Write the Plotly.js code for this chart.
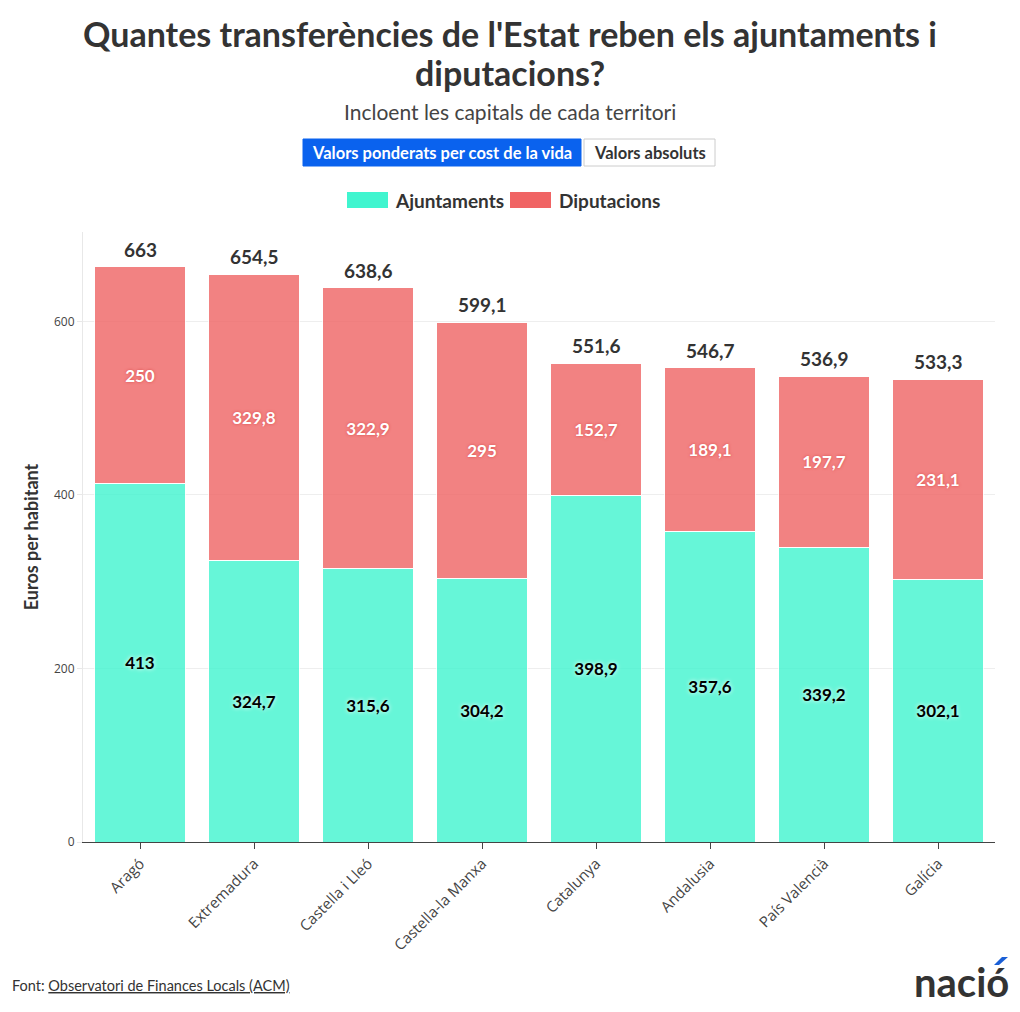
<!DOCTYPE html>
<html>
<head>
<meta charset="utf-8">
<script src="https://cdn.plot.ly/plotly-3.0.1.min.js"></script>
<style>html,body{margin:0;padding:0;background:#fff;}#chart{width:1020px;height:1012px;}</style>
</head>
<body>
<div id="chart"></div>
<script>
const categories = ["Aragó","Extremadura","Castella i Lleó","Castella-la Manxa","Catalunya","Andalusia","País Valencià","Galícia"];
const ajuntaments = [413, 324.7, 315.6, 304.2, 398.9, 357.6, 339.2, 302.1];
const diputacions = [250, 329.8, 322.9, 295, 152.7, 189.1, 197.7, 231.1];
const totals = [663, 654.5, 638.6, 599.1, 551.6, 546.7, 536.9, 533.3];
const seriesNames = ["Ajuntaments","Diputacions"];
const buttonLabels = ["Valors ponderats per cost de la vida","Valors absoluts"];
const titleLines = ["Quantes transferències de l'Estat reben els ajuntaments i","diputacions?"];

const fmt = v => String(v).replace('.', ',');
const TXT = "Lato, 'Noto Sans', sans-serif";
const TICK = "'Open Sans', sans-serif";

const traces = [
  {
    type:'bar', name:seriesNames[0], x:categories, y:ajuntaments,
    text: ajuntaments.map(fmt), textposition:'inside', insidetextanchor:'middle',
    textfont:{family:TXT, size:17, color:'#000', weight:700, shadow:'0px 0px 4px #ffffff'},
    marker:{color:'#40f5cf', opacity:0.8, line:{color:'#ffffff', width:1}},
    hoverinfo:'x+y', showlegend:false
  },
  {
    type:'bar', name:seriesNames[1], x:categories, y:diputacions,
    text: diputacions.map(fmt), textposition:'inside', insidetextanchor:'middle',
    textfont:{family:TXT, size:17, color:'#fff', weight:700, shadow:'0px 0px 3px #d94a4a'},
    marker:{color:'#f06464', opacity:0.8, line:{color:'#ffffff', width:1}},
    hoverinfo:'x+y', showlegend:false
  }
];

const L=83, R=995, T=232, B=842;
const px = x => (x - L)/(R - L);
const py = y => (B - y)/(B - T);

const shapes = [
  {type:'rect', xref:'paper', yref:'paper', x0:px(303), x1:px(581), y0:py(166), y1:py(139), fillcolor:'#0a62ee', line:{color:'#0a62ee', width:1}, layer:'above'},
  {type:'rect', xref:'paper', yref:'paper', x0:px(584), x1:px(715), y0:py(166), y1:py(139), fillcolor:'#ffffff', line:{color:'#cccccc', width:1}, layer:'above'},
  {type:'rect', xref:'paper', yref:'paper', x0:px(347), x1:px(388), y0:py(208), y1:py(192), fillcolor:'#40f5cf', line:{width:0}, layer:'above'},
  {type:'rect', xref:'paper', yref:'paper', x0:px(510), x1:px(551), y0:py(208), y1:py(192), fillcolor:'#f06464', line:{width:0}, layer:'above'},
  {type:'path', xref:'paper', yref:'paper', layer:'above', fillcolor:'#1a5fd6', line:{width:0},
   path:`M ${px(994)} ${py(965)} L ${px(999)} ${py(965)} L ${px(1008)} ${py(957)} L ${px(1002)} ${py(957)} Z`}
];

const ann = (x, y, text, font, xanchor) => ({xref:'paper', yref:'paper', x:px(x), y:py(y), xanchor:xanchor||'center', yanchor:'middle', text, showarrow:false, font});

const annotations = [
  ann(510, 33, '<b>'+titleLines[0]+'</b>', {family:TXT, size:34, color:'#333'}),
  ann(510, 73, '<b>'+titleLines[1]+'</b>', {family:TXT, size:34, color:'#333'}),
  ann(510, 111, 'Incloent les capitals de cada territori', {family:TXT, size:21, color:'#444'}),
  ann(442, 153, '<b>'+buttonLabels[0]+'</b>', {family:TXT, size:16.5, color:'#fff'}),
  ann(649.5, 153, '<b>'+buttonLabels[1]+'</b>', {family:TXT, size:16.5, color:'#333'}),
  ann(393, 200, '<b>'+seriesNames[0]+'</b>', {family:TXT, size:19, color:'#333'}, 'left'),
  ann(557, 200, '<b>'+seriesNames[1]+'</b>', {family:TXT, size:19, color:'#333'}, 'left'),
  ann(10, 985, 'Font: <span style="text-decoration:underline">Observatori de Finances Locals (ACM)</span>', {family:TXT, size:14.5, color:'#333'}, 'left'),
  ann(1011, 982, '<b>nació</b>', {family:TXT, size:40, color:'#333', weight:900}, 'right')
];

// totals above each stacked bar
categories.forEach((c, i) => {
  annotations.push({xref:'x', yref:'y', x:c, y:totals[i], yanchor:'bottom', yshift:4, text:'<b>'+fmt(totals[i])+'</b>', showarrow:false, font:{family:TXT, size:19, color:'#333'}});
});

const layout = {
  width:1020, height:1012,
  margin:{l:L, r:1020-R, t:T, b:1012-B, pad:0},
  paper_bgcolor:'#fff', plot_bgcolor:'#fff',
  barmode:'stack', bargap:0.2,
  separators:', ',
  xaxis:{type:'category', tickangle:-45, tickfont:{family:TICK, size:15, color:'#444'}, showline:true, linecolor:'#444', linewidth:1, ticks:'outside', ticklen:6, tickcolor:'#444', showgrid:false, automargin:false},
  yaxis:{range:[0,703], tickvals:[0,200,400,600], tickfont:{family:TICK, size:12, color:'#444'}, gridcolor:'#eeeeee', zeroline:false, showline:true, linecolor:'#e8e8e8', ticks:'outside', ticklen:5, tickcolor:'#e8e8e8', automargin:false,
    title:{text:'<b>Euros per habitant</b>', font:{family:TXT, size:18, color:'#333'}, standoff:10}},
  shapes:shapes, annotations:annotations,
  showlegend:false,
  font:{family:TXT, color:'#333'}
};

Plotly.newPlot('chart', traces, layout, {displayModeBar:false, responsive:false});
</script>
</body>
</html>
